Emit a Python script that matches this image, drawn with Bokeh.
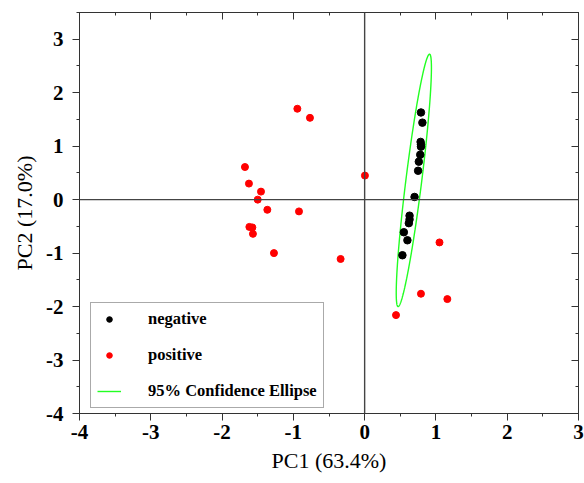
import numpy as np
from bokeh.plotting import figure
from bokeh.models import (LinearAxis, SingleIntervalTicker, Span, Legend,
                          LegendItem, Range1d)
from bokeh.embed import file_html
from bokeh.resources import INLINE

# ---- data ----
neg_x = [0.79, 0.81, 0.785, 0.79, 0.79, 0.78, 0.76, 0.75, 0.70, 0.63, 0.63, 0.62, 0.55, 0.60, 0.53]
neg_y = [1.63, 1.44, 1.08, 1.03, 0.99, 0.84, 0.71, 0.54, 0.05, -0.30, -0.37, -0.44, -0.61, -0.76, -1.04]

pos_x = [-0.944, -0.767, -1.679, -1.623, -1.454, -1.50, -1.365, -0.921, -1.617,
         -1.575, -1.567, -1.272, -0.337, 0.004, 1.05, 0.79, 1.16, 0.44]
pos_y = [1.70, 1.53, 0.61, 0.30, 0.15, 0.00, -0.19, -0.22, -0.51,
         -0.52, -0.64, -1.00, -1.11, 0.45, -0.80, -1.76, -1.86, -2.16]

# 95% confidence ellipse: centre, topmost point, horizontal half-width
ell_center = (0.69, 0.36)
ell_top = (0.91, 2.72)
ell_half_width = 0.112

x_ticks = [-4, -3, -2, -1, 0, 1, 2, 3]
x_tick_labels = ["-4", "-3", "-2", "-1", "0", "1", "2", "3"]
y_ticks = [-4, -3, -2, -1, 0, 1, 2, 3]
y_tick_labels = ["-4", "-3", "-2", "-1", "0", "1", "2", "3"]

x_title = "PC1 (63.4%)"
y_title = "PC2 (17.0%)"
legend_labels = ["negative", "positive", "95% Confidence Ellipse"]

# ---- figure ----
FONT = "Liberation Serif"
AX = "#333333"

p = figure(width=584, height=475, x_range=Range1d(-4, 3), y_range=Range1d(-4, 3.5),
           output_backend="svg", toolbar_location=None,
           x_axis_location=None, y_axis_location=None,
           min_border_left=79, min_border_right=6, min_border_top=12, min_border_bottom=61)
p.grid.visible = False
p.outline_line_color = AX
p.outline_line_width = 1
p.background_fill_color = "white"
p.border_fill_color = "white"


def make_axis(ticks, labels, title, main=True):
    ax = LinearAxis(ticker=SingleIntervalTicker(interval=1, num_minor_ticks=2))
    ax.axis_line_color = AX
    ax.major_tick_line_color = AX
    ax.minor_tick_line_color = AX
    ax.major_label_overrides = {t: l for t, l in zip(ticks, labels)}
    if main:
        ax.major_tick_out = 7
        ax.major_tick_in = 0
        ax.minor_tick_out = 3
        ax.minor_tick_in = 0
        ax.major_label_text_font = FONT
        ax.major_label_text_font_style = "bold"
        ax.major_label_text_font_size = "21px"
        ax.major_label_text_color = "black"
        ax.axis_label = title
        ax.axis_label_text_font = FONT
        ax.axis_label_text_font_style = "normal"
        ax.axis_label_text_font_size = "22px"
        ax.axis_label_text_color = "black"
    else:
        # mirror axis: inward ticks only, labels not drawn
        ax.major_label_text_color = None
        ax.major_label_text_font_size = "6px"
        ax.major_label_standoff = 0
        ax.major_tick_out = 0
        ax.major_tick_in = 7
        ax.minor_tick_out = 0
        ax.minor_tick_in = 3
    return ax


xa = make_axis(x_ticks, x_tick_labels, x_title)
xa.major_label_standoff = 4
xa.axis_label_standoff = 6
ya = make_axis(y_ticks, y_tick_labels, y_title)
ya.major_label_standoff = 9
ya.axis_label_standoff = 6
p.add_layout(xa, "below")
p.add_layout(ya, "left")
p.add_layout(make_axis(x_ticks, x_tick_labels, "", main=False), "above")
p.add_layout(make_axis(y_ticks, y_tick_labels, "", main=False), "right")

# zero lines
p.add_layout(Span(location=0, dimension="height", line_color="#444444", line_width=1.4))
p.add_layout(Span(location=0, dimension="width", line_color="#444444", line_width=1.4))

# ellipse from conjugate semi-diameters
t = np.linspace(0, 2 * np.pi, 361)
ax_vec = (ell_top[0] - ell_center[0], ell_top[1] - ell_center[1])
ex = ell_center[0] + ax_vec[0] * np.sin(t) + ell_half_width * np.cos(t)
ey = ell_center[1] + ax_vec[1] * np.sin(t)
r_ell = p.line(ex, ey, line_color="#22ff22", line_width=1.4)

r_neg = p.scatter(neg_x, neg_y, size=7.5, marker="circle", fill_color="black", line_color="black")
r_pos = p.scatter(pos_x, pos_y, size=7, marker="circle", fill_color="red", line_color="red")

legend = Legend(items=[LegendItem(label=legend_labels[0], renderers=[r_neg]),
                       LegendItem(label=legend_labels[1], renderers=[r_pos]),
                       LegendItem(label=legend_labels[2], renderers=[r_ell])],
                location=(11, 5), margin=0, padding=6, spacing=16,
                glyph_width=24, glyph_height=14, label_height=14, label_standoff=27,
                label_text_font=FONT, label_text_font_style="bold",
                label_text_font_size="16.5px", label_text_color="black",
                border_line_color="#555555", border_line_width=1,
                background_fill_color="white", background_fill_alpha=1)
p.add_layout(legend, "center")

open("out.html", "w").write(file_html(p, INLINE))
